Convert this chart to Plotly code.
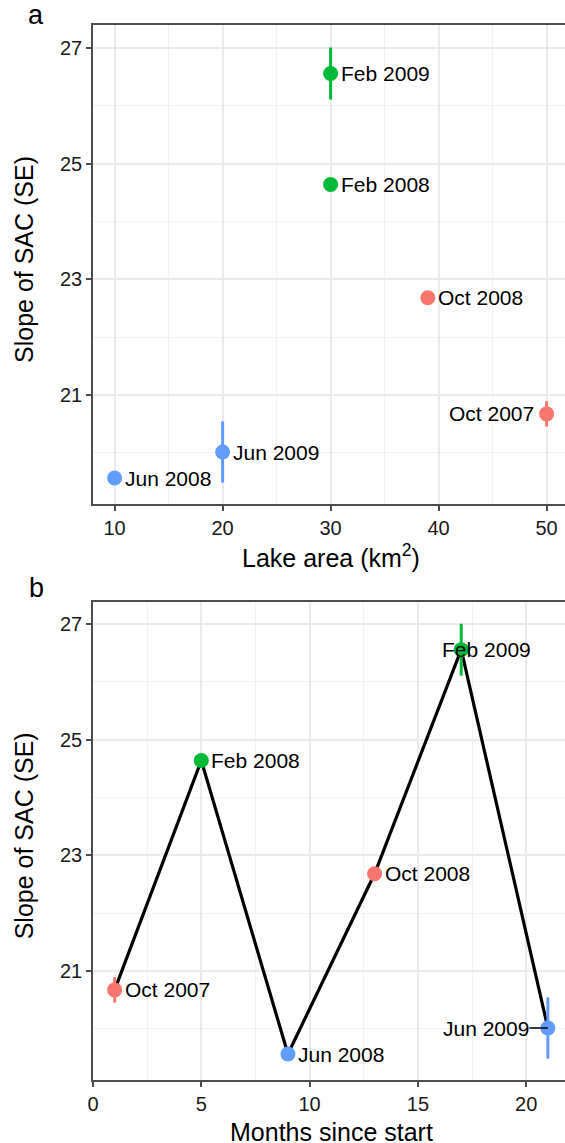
import plotly.graph_objects as go

# data
samples = ["Oct 2007", "Feb 2008", "Jun 2008", "Oct 2008", "Feb 2009", "Jun 2009"]
season = ["Oct", "Feb", "Jun", "Oct", "Feb", "Jun"]
lake_area = [50, 30, 10, 39, 30, 20]
months = [1, 5, 9, 13, 17, 21]
slope = [20.67, 24.64, 19.56, 22.68, 26.56, 20.01]
slope_se = [0.22, 0.07, 0.05, 0.04, 0.45, 0.53]

season_colors = {"Oct": "#F8766D", "Feb": "#00BA38", "Jun": "#619CFF"}

# label placement (which side of the point the text sits on)
side_a = ["left", "right", "right", "right", "right", "right"]
side_b = ["right", "right", "right", "right", "over", "segment"]

W, H = 565, 1143
L, R, T, B = 93, 0, 25, 63
A_TOP, A_BOT = 25, 504
B_TOP, B_BOT = 601.7, 1080

FONT = "Liberation Sans, Arial, Helvetica, sans-serif"
ph = H - T - B
pw = W - L - R


def py(px):
    # pixel row -> paper y
    return (H - B - px) / ph


def px_x(px):
    return (px - L) / pw


fig = go.Figure()

# panel b line first so markers sit on top
fig.add_trace(go.Scatter(
    x=months, y=slope, mode="lines", xaxis="x2", yaxis="y2",
    line=dict(color="black", width=3.2), hoverinfo="skip", showlegend=False,
))

for s in ["Oct", "Feb", "Jun"]:
    idx = [i for i, v in enumerate(season) if v == s]
    for xa, ya, xs in [("x", "y", lake_area), ("x2", "y2", months)]:
        fig.add_trace(go.Scatter(
            x=[xs[i] for i in idx],
            y=[slope[i] for i in idx],
            error_y=dict(type="data", array=[slope_se[i] for i in idx],
                         color=season_colors[s], thickness=3, width=0),
            mode="markers", xaxis=xa, yaxis=ya,
            marker=dict(color=season_colors[s], size=15, line=dict(width=0)),
            text=[samples[i] for i in idx],
            hovertemplate="%{text}: %{y:.2f}<extra></extra>",
            showlegend=False,
        ))

annotations = []
lab_font = dict(family=FONT, size=21, color="black")
for i, name in enumerate(samples):
    if side_a[i] == "left":
        annotations.append(dict(x=lake_area[i], y=slope[i], xref="x", yref="y", text=name,
                                showarrow=False, xanchor="right", xshift=-11, font=lab_font))
    else:
        annotations.append(dict(x=lake_area[i], y=slope[i], xref="x", yref="y", text=name,
                                showarrow=False, xanchor="left", xshift=8, font=lab_font))
    if side_b[i] == "right":
        annotations.append(dict(x=months[i], y=slope[i], xref="x2", yref="y2", text=name,
                                showarrow=False, xanchor="left", xshift=8, font=lab_font))
    elif side_b[i] == "over":
        annotations.append(dict(x=months[i], y=slope[i], xref="x2", yref="y2", text=name,
                                showarrow=False, xanchor="left", xshift=-21, font=lab_font))
    else:
        annotations.append(dict(x=months[i], y=slope[i], xref="x2", yref="y2", text=name,
                                showarrow=True, arrowhead=0, arrowwidth=1.5, arrowcolor="black",
                                ax=-62, ay=0, standoff=0, borderpad=0, font=lab_font))

title_font = dict(family=FONT, size=25, color="black")
for top, bot, xt in [(A_TOP, A_BOT, "Lake area (km<sup>2</sup>)"), (B_TOP, B_BOT, "Months since start")]:
    annotations.append(dict(x=px_x(23.5), y=py((top + bot) / 2 - 5), xref="paper", yref="paper",
                            text="Slope of SAC (SE)", textangle=-90, showarrow=False,
                            xanchor="center", yanchor="middle", font=title_font))
    annotations.append(dict(x=px_x(331), y=py(bot + 52), xref="paper", yref="paper",
                            text=xt, showarrow=False, xanchor="center", yanchor="middle",
                            font=title_font))

for letter, cy in [("a", 15), ("b", 588)]:
    annotations.append(dict(x=px_x(36), y=py(cy), xref="paper", yref="paper", text=letter,
                            showarrow=False, xanchor="center", yanchor="middle",
                            font=dict(family=FONT, size=27, color="black")))

grid = dict(showgrid=True, gridcolor="#EBEBEB", gridwidth=1.5, zeroline=False,
            showline=True, linecolor="#4D4D4D", linewidth=1.5,
            ticks="outside", ticklen=5, tickwidth=1.5, tickcolor="#4D4D4D",
            tickfont=dict(family=FONT, size=20, color="#1A1A1A"),
            minor=dict(showgrid=True, gridcolor="#F2F2F2", gridwidth=1, ticks=""))

xa = dict(grid, range=[8, 8 + pw / 10.8], tickvals=[10, 20, 30, 40, 50],
          mirror=True, anchor="y", domain=[0, 1])
xa["minor"] = dict(grid["minor"], tickvals=[15, 25, 35, 45])
xb = dict(grid, range=[0, pw / 21.66], tickvals=[0, 5, 10, 15, 20],
          mirror=True, anchor="y2", domain=[0, 1])
xb["minor"] = dict(grid["minor"], tickvals=[2.5, 7.5, 12.5, 17.5])
ya = dict(grid, range=[19.11, 27.40], tickvals=[21, 23, 25, 27], anchor="x",
          domain=[py(A_BOT), py(A_TOP)])
ya["minor"] = dict(grid["minor"], tickvals=[20, 22, 24, 26])
yb = dict(grid, range=[19.11, 27.39], tickvals=[21, 23, 25, 27], anchor="x2",
          domain=[py(B_BOT), py(B_TOP)])
yb["minor"] = dict(grid["minor"], tickvals=[20, 22, 24, 26])

fig.update_layout(
    width=W, height=H,
    margin=dict(l=L, r=R, t=T, b=B),
    paper_bgcolor="white", plot_bgcolor="white",
    xaxis=xa, yaxis=ya, xaxis2=xb, yaxis2=yb,
    annotations=annotations,
    font=dict(family=FONT),
)

# drop the default page margin so the figure sits at the window's corner
fig.write_html("out.html", config={"displayModeBar": False},
               post_script="document.body.style.margin='0';")
